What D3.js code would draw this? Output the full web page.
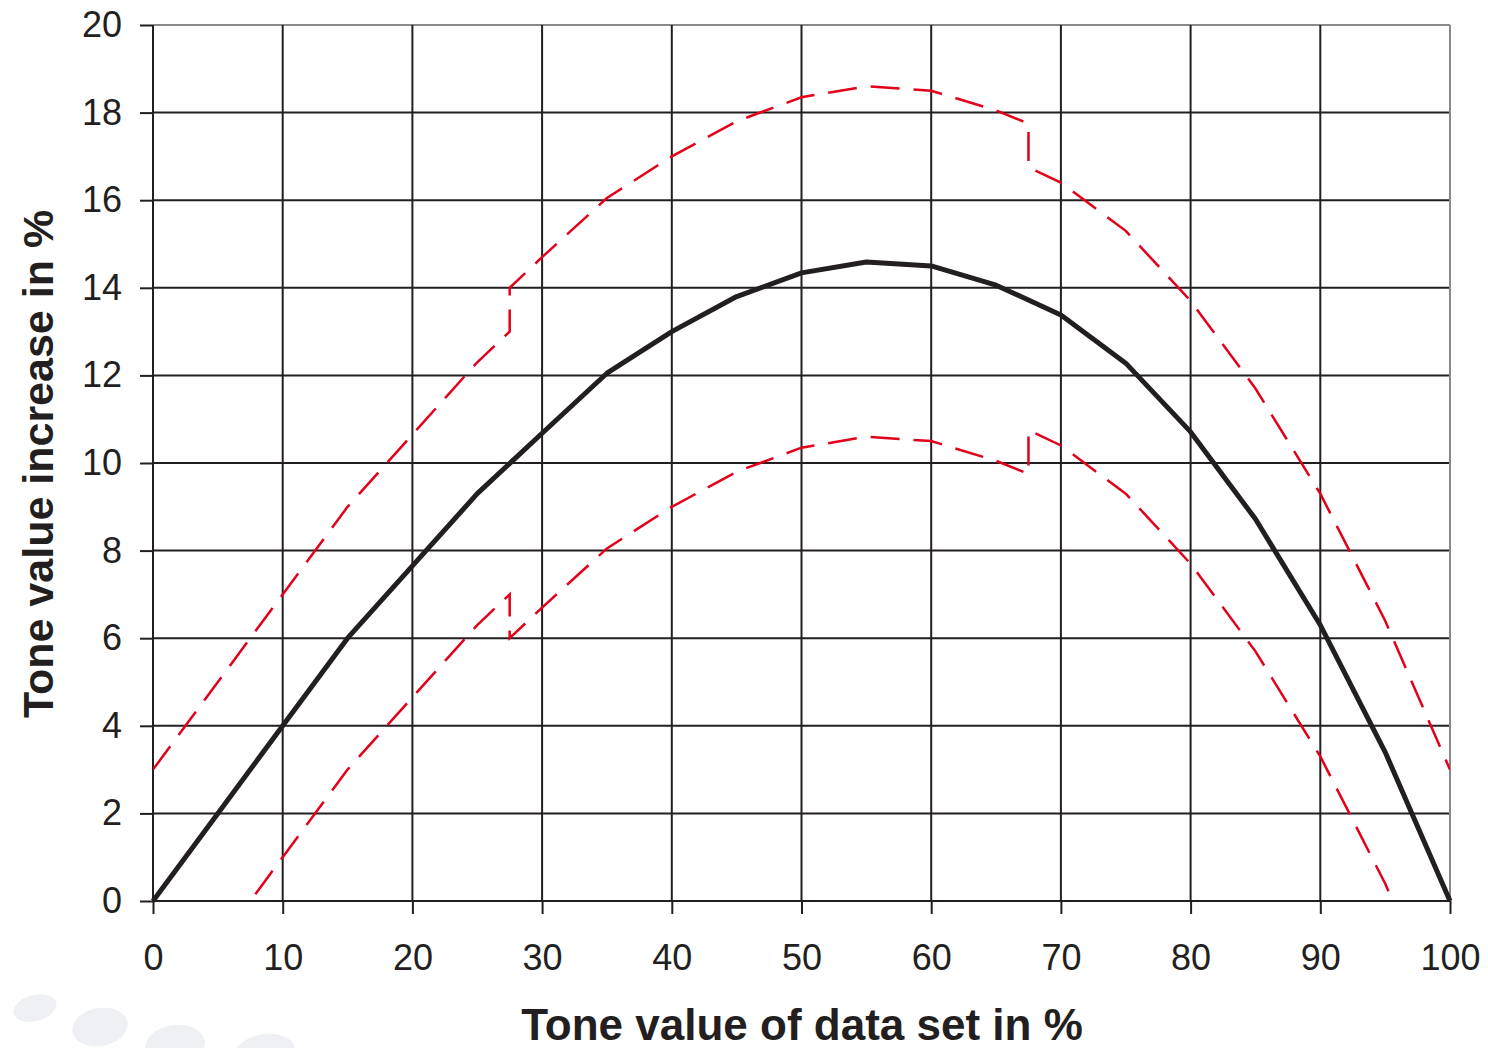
<!DOCTYPE html>
<html>
<head>
<meta charset="utf-8">
<script src="https://cdn.jsdelivr.net/npm/d3@7"></script>
<style>
  body { margin: 0; background: #fff; }
  svg { display: block; font-family: "Liberation Sans", Arial, sans-serif; }
</style>
</head>
<body>
<div id="chart"></div>
<script>
// ---- data ----
const toneValues = [0, 5, 10, 15, 20, 25, 30, 35, 40, 45, 50, 55, 60, 65, 70, 75, 80, 85, 90, 95, 100]
const increase   = [0, 2, 4, 6, 7.65, 9.3, 10.68, 12.05, 13.0, 13.8, 14.34, 14.59, 14.5, 14.06, 13.38, 12.28, 10.71, 8.72, 6.3, 3.4, 0]

// tolerance limits (steps at 27.5 and 67.5)
const limitX   = [0, 5, 10, 15, 20, 25, 27.5, 27.5, 30, 35, 40, 45, 50, 55, 60, 65, 67.5, 67.5, 70, 75, 80, 85, 90, 95, 100]
const upperLim = [3, 5, 7, 9, 10.65, 12.3, 13.0, 14.0, 14.7, 16.05, 17.0, 17.8, 18.35, 18.6, 18.5, 18.05, 17.75, 16.75, 16.4, 15.3, 13.7, 11.7, 9.3, 6.4, 3.0]
const lowerLim = [-3, -1, 1, 3, 4.65, 6.3, 7.0, 6.0, 6.7, 8.05, 9.0, 9.8, 10.35, 10.6, 10.5, 10.05, 9.75, 10.75, 10.4, 9.3, 7.7, 5.7, 3.3, 0.4, -3]

const xTicks = d3.range(0, 101, 10)
const yTicks = d3.range(0, 21, 2)

const width = 1488, height = 1048
const ink = "#231f20", red = "#e2001a"

const svg = d3.select("#chart").append("svg")
    .attr("width", width)
    .attr("height", height)

// faint decorative blobs, bottom left
const blobs = [[35, 1008, 22, 13, -15], [100, 1027, 28, 19, -10], [175, 1045, 30, 20, -8], [265, 1052, 30, 18, -8]]
svg.selectAll("ellipse.blob").data(blobs).join("ellipse")
    .attr("cx", d => d[0]).attr("cy", d => d[1])
    .attr("rx", d => d[2]).attr("ry", d => d[3])
    .attr("transform", d => `rotate(${d[4]},${d[0]},${d[1]})`)
    .attr("fill", "#eef0f3")

const x = d3.scaleLinear().domain([0, 100]).range([153, 1450])
const y = d3.scaleLinear().domain([0, 20]).range([901, 25])

// grid
svg.append("g").selectAll("line").data(yTicks).join("line")
    .attr("x1", x(0)).attr("x2", x(100))
    .attr("y1", d => y(d)).attr("y2", d => y(d))
    .attr("stroke", d => d == 20 ? "#8a8a8a" : ink)
    .attr("stroke-width", 2)
svg.append("g").selectAll("line").data(xTicks).join("line")
    .attr("y1", y(0)).attr("y2", y(20))
    .attr("x1", d => x(d)).attr("x2", d => x(d))
    .attr("stroke", d => d == 100 ? "#8a8a8a" : ink)
    .attr("stroke-width", 2)

// axes
const xAxis = svg.append("g")
    .attr("transform", `translate(0,${y(0)})`)
    .call(d3.axisBottom(x).tickValues(xTicks).tickSize(13).tickPadding(24))
const yAxis = svg.append("g")
    .attr("transform", `translate(${x(0)},0)`)
    .call(d3.axisLeft(y).tickValues(yTicks).tickSize(13).tickPadding(18))

for (const ax of [xAxis, yAxis]) {
    ax.select(".domain").remove()
    ax.selectAll("line").attr("stroke", ink).attr("stroke-width", 2)
    ax.selectAll("text")
        .attr("fill", ink)
        .style("font-size", "36px")
        .style("font-family", "'Liberation Sans', Arial, sans-serif")
}
xAxis.selectAll("text").attr("dy", "0.9em")

// clip to plot area
svg.append("clipPath").attr("id", "plot")
    .append("rect")
    .attr("x", x(0)).attr("y", y(20))
    .attr("width", x(100) - x(0)).attr("height", y(0) - y(20))

const line = d3.line().x(d => x(d[0])).y(d => y(d[1]))

// tolerance limits
for (const lim of [upperLim, lowerLim]) {
    svg.append("path")
        .datum(limitX.map((v, i) => [v, lim[i]]))
        .attr("clip-path", "url(#plot)")
        .attr("d", line)
        .attr("fill", "none")
        .attr("stroke", red)
        .attr("stroke-width", 2.5)
        .attr("stroke-dasharray", "29,14")
}

// nominal curve
svg.append("path")
    .datum(toneValues.map((v, i) => [v, increase[i]]))
    .attr("d", line)
    .attr("fill", "none")
    .attr("stroke", ink)
    .attr("stroke-width", 5)
    .attr("stroke-linejoin", "round")

// axis titles
svg.append("text")
    .attr("x", 802).attr("y", 1040)
    .attr("text-anchor", "middle")
    .attr("fill", ink)
    .style("font-size", "44px").style("font-weight", "bold")
    .text("Tone value of data set in %")

svg.append("text")
    .attr("transform", "translate(53,464) rotate(-90)")
    .attr("text-anchor", "middle")
    .attr("fill", ink)
    .style("font-size", "43px").style("font-weight", "bold")
    .text("Tone value increase in %")
</script>
</body>
</html>
